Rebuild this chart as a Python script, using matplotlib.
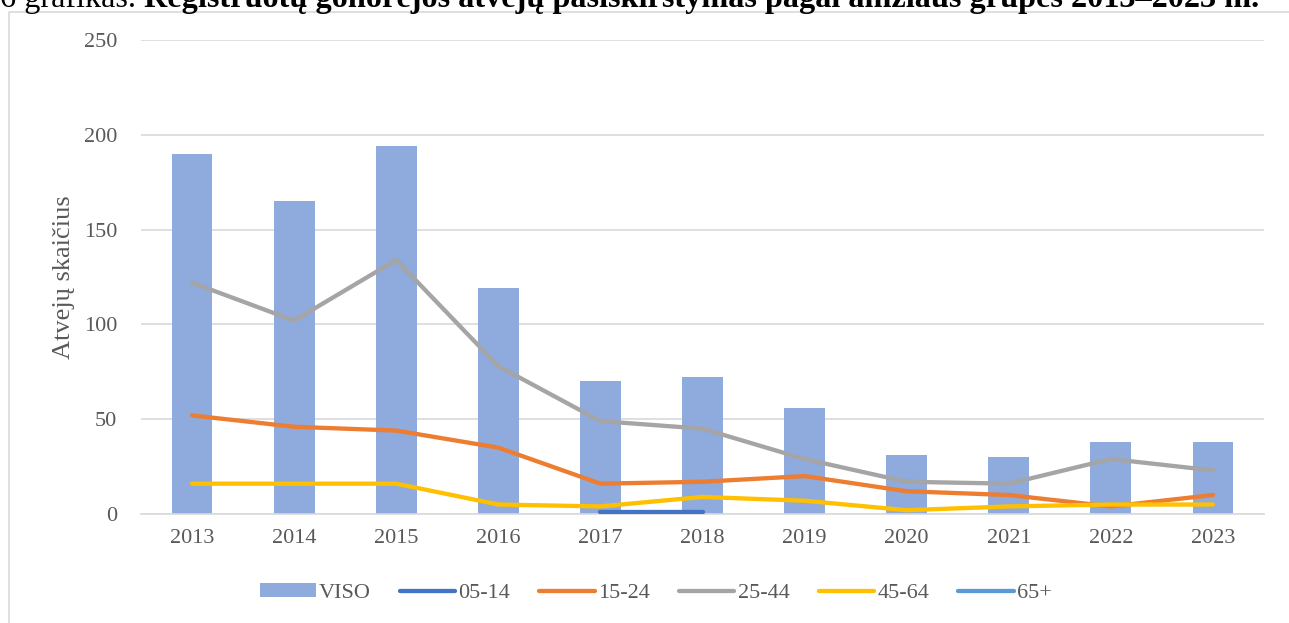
import numpy as np
import matplotlib
matplotlib.use("Agg")
import matplotlib.pyplot as plt
from matplotlib.lines import Line2D

plt.rcParams['font.family'] = ['Liberation Serif', 'DejaVu Serif']

years = ['2013', '2014', '2015', '2016', '2017', '2018', '2019', '2020', '2021', '2022', '2023']
viso = [190, 165, 194, 119, 70, 72, 56, 31, 30, 38, 38]
g05_14 = [np.nan, np.nan, np.nan, np.nan, 1, 1, np.nan, np.nan, np.nan, np.nan, np.nan]
g15_24 = [52, 46, 44, 35, 16, 17, 20, 12, 10, 4, 10]
g25_44 = [122, 102, 134, 78, 49, 45, 29, 17, 16, 29, 23]
g45_64 = [16, 16, 16, 5, 4, 9, 7, 2, 4, 5, 5]
g65 = [np.nan] * 11
yticks = [0, 50, 100, 150, 200, 250]
title_regular = '6 grafikas. '
title_bold = 'Registruotų gonorėjos atvejų pasiskirstymas pagal amžiaus grupes 2013–2023 m.'

W, H = 1289, 623
fig = plt.figure(figsize=(W / 100, H / 100), dpi=100)
ax = fig.add_axes([141 / W, (H - 514) / H, 1123 / W, 474 / H])

x = np.arange(len(years))
handles = []
handles.append(ax.bar(x, viso, width=0.4, color='#8FAADC', zorder=2, label='VISO'))
lw = 3.1
series = [(g05_14, '#4472C4', '05-14'), (g15_24, '#ED7D31', '15-24'),
          (g25_44, '#A5A5A5', '25-44'), (g45_64, '#FFC000', '45-64'),
          (g65, '#5B9BD5', '65+')]
for vals, col, lab in series:
    ln, = ax.plot(x, vals, color=col, lw=lw, solid_capstyle='round',
                  solid_joinstyle='round', zorder=3, label=lab)
    handles.append(ln)

ax.set_xlim(-0.5, len(years) - 0.5)
ax.set_ylim(0, 250)
ax.set_yticks(yticks)
ax.set_xticks(x)
ax.set_xticklabels(years)
ax.yaxis.grid(True, color='#D9D9D9', lw=1.2, zorder=0)
ax.set_axisbelow(True)
for s in ['top', 'right', 'left']:
    ax.spines[s].set_visible(False)
ax.spines['bottom'].set_color('#D9D9D9')
ax.spines['bottom'].set_linewidth(1.2)
ax.tick_params(axis='both', length=0, labelsize=16, labelcolor='#595959')
ax.tick_params(axis='y', pad=17)
ax.tick_params(axis='x', pad=11)
ax.set_ylabel('Atvejų skaičius', fontsize=19, color='#595959')
ax.yaxis.set_label_coords((75 - 141) / 1123, 0.5)

ax.legend(handles=handles, loc='center', bbox_to_anchor=(656 / W, 1 - 593 / H),
          bbox_transform=fig.transFigure, ncol=6, frameon=False, fontsize=16,
          handlelength=2.5, handleheight=0.55, handletextpad=0.15,
          columnspacing=1.3, labelcolor='#595959')

# chart frame (partially visible)
fig.add_artist(Line2D([8.5 / W, 8.5 / W, 1.0], [0, 1 - 11.5 / H, 1 - 11.5 / H],
                      transform=fig.transFigure, color='#D9D9D9', lw=1.2))

# title (clipped at top, as in the source document)
renderer = fig.canvas.get_renderer()
ty = 1 - 7 / H
fs = 24.0
t1 = fig.text(0, ty, title_regular, fontsize=fs, va='baseline', ha='left', color='black')
t2 = fig.text(0, ty, title_bold, fontsize=fs, fontweight='bold', va='baseline', ha='left', color='black')
w_total = t1.get_window_extent(renderer).width + t2.get_window_extent(renderer).width
fs = fs * 1262 / w_total
t1.set_fontsize(fs)
t2.set_fontsize(fs)
bb = t1.get_window_extent(renderer)
t2.set_x(bb.x1 / W)

fig.savefig('out.png', dpi=100)
